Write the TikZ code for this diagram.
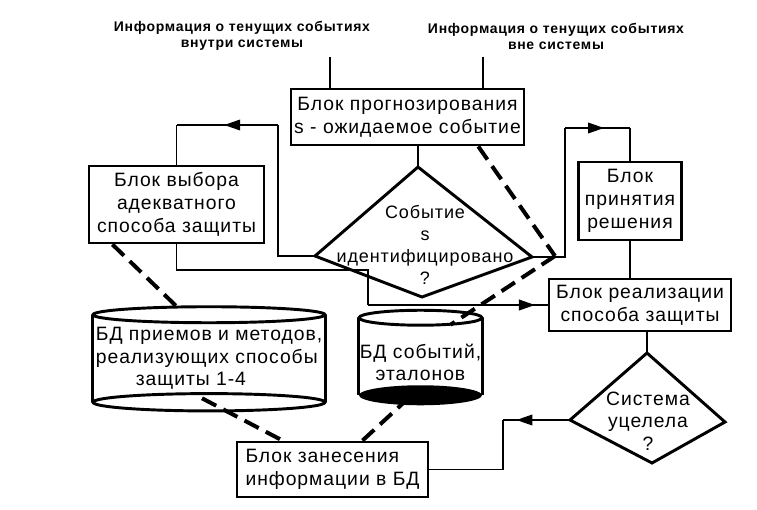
\documentclass[tikz,border=0pt]{standalone}
\usepackage{fontspec}
\setmainfont[LetterSpace=5]{Liberation Sans}
\usetikzlibrary{arrows.meta,decorations.markings,calc}
\tikzset{
  blok/.style={draw, line width=2.2pt, align=center, inner sep=1pt, font=\fontsize{14.5}{17}\selectfont},
  txt/.style={align=center, inner sep=1pt, font=\fontsize{14.5}{17}\selectfont},
  inf/.style={align=center, inner sep=1pt, font=\fontsize{10.5}{12}\selectfont\bfseries},
  lin/.style={line width=1.2pt},
  romb/.style={line width=2.2pt, line join=miter},
  cyl/.style={line width=2.2pt},
  dsh/.style={line width=3pt, dash pattern=on 12pt off 6pt},
  midarr/.style={postaction={decorate}, decoration={markings, mark=at position #1 with {\arrow{Triangle[length=12pt,width=8pt]}}}}
}
\begin{document}
\begin{tikzpicture}[x=0.75pt, y=-0.75pt]
  \useasboundingbox (0,0) rectangle (757,510);
  % inputs
  \node[inf] (infIn) at (242,36) {Информация о тенущих событиях\\внутри системы};
  \node[inf] (infOut) at (556,36) {Информация о тенущих событиях\\вне системы};
  \coordinate (tA) at (330,57);
  \coordinate (tB) at (483,57);
  % blocks
  \node[blok, minimum width=174.75pt, minimum height=42pt] (prog) at (407.5,117) {Блок прогнозирования\\s - ожидаемое событие};
  \node[blok, minimum width=131.25pt, minimum height=57.75pt] (vybor) at (176.5,204.5) {Блок выбора\\адекватного\\способа защиты};
  \node[blok, minimum width=77.25pt, minimum height=58.5pt] (prin) at (630,201) {Блок\\принятия\\решения};
  \node[blok, minimum width=136.5pt, minimum height=39pt] (real) at (640,305) {Блок реализации\\способа защиты};
  \node[blok, align=left, minimum width=143.25pt, minimum height=41.25pt] (zan) at (332.5,469.5) {Блок занесения\\информации в БД};
  % decisions
  \coordinate (kt) at (418,167);
  \coordinate (kl) at (315,256);
  \coordinate (kr) at (532,257);
  \coordinate (kb) at (422,297);
  \draw[romb] (kt) -- (kr) -- (kb) -- (kl) -- cycle;
  \node[txt, font=\fontsize{13.5}{16.5}\selectfont] (ident) at (425,245) {Событие\\s\\идентифицировано\\?};
  \coordinate (kt2) at (647,353);
  \coordinate (kl2) at (570,420);
  \coordinate (kr2) at (725,422);
  \coordinate (kb2) at (652,463);
  \draw[romb] (kt2) -- (kr2) -- (kb2) -- (kl2) -- cycle;
  \node[txt] (cel) at (648,421) {Система\\уцелела\\?};
  % data bases
  \node[txt, align=left, minimum width=174pt, minimum height=65.25pt] (bdp) at (209,358.5) {БД приемов и методов,\\реализующих способы\\\hspace*{30pt}защиты 1-4};
  \draw[cyl] (bdp.north west) -- (bdp.south west) (bdp.north east) -- (bdp.south east);
  \draw[cyl] (bdp.north) ellipse [x radius=87pt, y radius=6pt];
  \draw[cyl] (bdp.south) ellipse [x radius=87pt, y radius=6.5pt];
  \node[minimum width=92.25pt, minimum height=57.75pt, inner sep=0pt,
    label={[txt, yshift=-4.5pt]center:{БД событий,\\эталонов}}] (bds) at (420.5,356.5) {};
  \draw[cyl] (bds.north west) -- (bds.south west) (bds.north east) -- (bds.south east);
  \draw[cyl] (bds.north) ellipse [x radius=46.1pt, y radius=5.6pt];
  \fill (bds.south) ellipse [x radius=46.1pt, y radius=7.5pt];
  % links
  \draw[lin] (tA) -- (tA |- prog.north);
  \draw[lin] (tB) -- (tB |- prog.north);
  \draw[lin] (prog.south -| kt) -- (kt);
  \coordinate (lA) at (278,125);
  \draw[lin] (kl) -| (lA);
  \draw[lin, midarr=0.53] (lA) -- (lA -| vybor.north);
  \draw[lin] (lA -| vybor.north) -- (vybor.north);
  \coordinate (rA) at (565,128);
  \draw[lin] (kr) -| (rA);
  \draw[lin, midarr=0.6] (rA) -- (rA -| prin.north);
  \draw[lin] (rA -| prin.north) -- (prin.north);
  \draw[lin] (prin.south) -- (prin.south |- real.north);
  \coordinate (vA) at (368,270);
  \draw[lin] (vybor.south) |- (vA) -- (vA |- real.west);
  \draw[lin, midarr=0.93] (vA |- real.west) -- (real.west);
  \draw[lin] (real.south -| kt2) -- (kt2);
  \coordinate (bA) at (503,420);
  \draw[lin, midarr=0.8] (kl2) -- (bA);
  \draw[lin] (bA) |- (zan.east);
  % dashed links
  \coordinate (pk) at (555,256);
  \draw[dsh] ($(prog.south west)!0.8!(prog.south east)$) -- (pk);
  \draw[dsh] (pk) -- ($(bds.north)+(30,7)$);
  \draw[dsh] ($(vybor.south west)!0.14!(vybor.south east)$) -- ($(bdp.north)+(-29,-5)$);
  \draw[dsh] ($(bdp.south)+(-7,-4)$) -- ($(zan.north)+(-50,0)$);
  \draw[dsh] ($(bds.south)+(-11,2)$) -- ($(zan.north)+(30,0)$);
\end{tikzpicture}
\end{document}
